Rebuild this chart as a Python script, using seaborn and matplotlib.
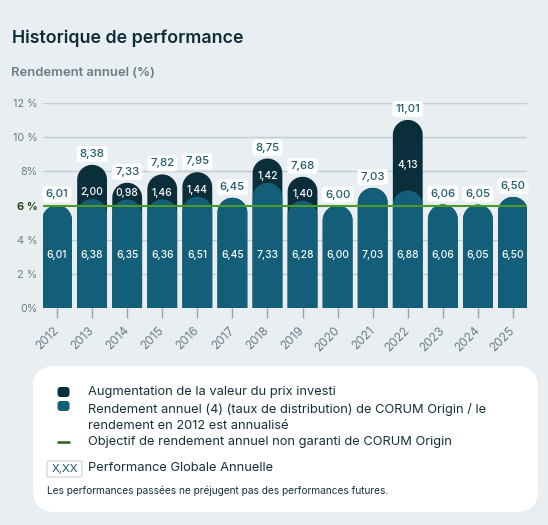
import numpy as np
import pandas as pd
import seaborn as sns
import matplotlib
matplotlib.use("Agg")
import matplotlib.pyplot as plt
from matplotlib.path import Path
from matplotlib.patches import PathPatch, FancyBboxPatch

# data
years = [str(y) for y in range(2012, 2026)]
distribution = [6.01, 6.38, 6.35, 6.36, 6.51, 6.45, 7.33, 6.28, 6.00, 7.03, 6.88, 6.06, 6.05, 6.50]
increase = [0, 2.00, 0.98, 1.46, 1.44, 0, 1.42, 1.40, 0, 0, 4.13, 0, 0, 0]
total = [6.01, 8.38, 7.33, 7.82, 7.95, 6.45, 8.75, 7.68, 6.00, 7.03, 11.01, 6.06, 6.05, 6.50]
y_ticks = [0, 2, 4, 6, 8, 10, 12]
y_tick_labels = ["0%", "2 %", "4 %", "6 %", "8%", "10 %", "12 %"]
target = 6

BG = "#e8eef1"
DARK = "#0b2e3b"
TEAL = "#135e78"
GREEN = "#4a9a2a"
GRID = "#c3ccd0"
GRAY = "#6e7d83"
LABEL = "#1d5a70"
TEXT = "#15303a"

sns.set_theme(style="white")
plt.rcParams["font.family"] = ["Inter", "DejaVu Sans"]

df = pd.DataFrame({"year": years, "distribution": distribution, "total": total})

W, H = 548, 525
fig = plt.figure(figsize=(W / 100, H / 100), dpi=100, facecolor=BG)
ax = fig.add_axes([43 / W, 1 - 308 / H, 484 / W, 205 / H])
ax.set_facecolor(BG)

sns.barplot(data=df, x="year", y="total", color=DARK, width=0.85, saturation=1, ax=ax)
sns.barplot(data=df, x="year", y="distribution", color=TEAL, width=0.85, saturation=1, ax=ax)
ax.set_xlim(-0.4, 13.4)
ax.set_ylim(0, 12)

# convert bars to rounded-top shapes
fig.canvas.draw()
p0 = ax.transData.transform((0, 0))
p1 = ax.transData.transform((1, 1))
ratio = (p1[0] - p0[0]) / (p1[1] - p0[1])
for patch in list(ax.patches):
    x0, w, h = patch.get_x(), patch.get_width(), patch.get_height()
    rx = w / 2
    ry = rx * ratio
    th = np.linspace(np.pi, 0, 40)
    xs = x0 + rx + rx * np.cos(th)
    ys = h - ry + ry * np.sin(th)
    verts = [(x0, 0), (x0, h - ry)] + list(zip(xs, ys)) + [(x0 + w, 0), (x0, 0)]
    codes = [Path.MOVETO] + [Path.LINETO] * (len(verts) - 2) + [Path.CLOSEPOLY]
    ax.add_patch(PathPatch(Path(verts, codes), facecolor=patch.get_facecolor(),
                           edgecolor="none", zorder=patch.get_zorder()))
    patch.remove()

for v in y_ticks:
    if v == target:
        continue
    ax.axhline(v, color=GRID, lw=1, zorder=0.5)
ax.axhline(target, color=GREEN, lw=1.5, zorder=1.5)

# labels
for i, (d, inc, t) in enumerate(zip(distribution, increase, total)):
    ax.text(i, 3.1, f"{d:.2f}".replace(".", ","), ha="center", va="center",
            color="white", fontsize=7.4, fontweight="medium", zorder=5)
    if inc > 0:
        ly = max(d + 0.38, (d + t) / 2 - 0.6)
        ax.text(i, ly, f"{inc:.2f}".replace(".", ","), ha="center", va="center",
                color="white", fontsize=7.4, fontweight="medium", zorder=5)
    ax.text(i, t + 0.64, f"{t:.2f}".replace(".", ","), ha="center", va="center",
            color=LABEL, fontsize=8.2, fontweight="medium", zorder=6, clip_on=False,
            bbox=dict(boxstyle="round,pad=0.26,rounding_size=0.3", fc="white", ec="none"))

ax.set_yticks(y_ticks)
ax.set_yticklabels(y_tick_labels)
for lab, v in zip(ax.get_yticklabels(), y_ticks):
    lab.set_color(GRAY)
    if v == target:
        lab.set_fontweight("bold")
        lab.set_color("#1f4a16")
ax.tick_params(axis="y", left=False, length=0, pad=4, labelsize=7.8)
ax.tick_params(axis="x", bottom=True, length=7, width=1, color="#9aa6ab", pad=8,
               labelsize=8.6, labelcolor=GRAY)
plt.setp(ax.get_xticklabels(), rotation=45, ha="right", va="center", rotation_mode="anchor")
ax.set_xlabel("")
ax.set_ylabel("")
sns.despine(ax=ax, left=True, bottom=True, top=True, right=True)

# overlay in pixel coordinates
lay = fig.add_axes([0, 0, 1, 1], zorder=-1)
lay.set_xlim(0, W)
lay.set_ylim(H, 0)
lay.axis("off")
lay.text(12, 38, "Historique de performance", fontsize=12.8, fontweight="semibold",
         color="#0f2d38", va="center", ha="left")
lay.text(11, 73, "Rendement annuel (%)", fontsize=9.4, fontweight="semibold",
         color=GRAY, va="center", ha="left")

lay.add_patch(FancyBboxPatch((33, 366), 505, 146, boxstyle="round,pad=0,rounding_size=22",
                             fc="white", ec="none"))
lay.add_patch(FancyBboxPatch((57.5, 387), 12, 10, boxstyle="round,pad=0,rounding_size=3",
                             fc=DARK, ec="none"))
lay.add_patch(FancyBboxPatch((57.5, 401), 12, 10, boxstyle="round,pad=0,rounding_size=3",
                             fc=TEAL, ec="none"))
lay.plot([58, 69], [442, 442], color="#2f5a22", lw=1.8)
lay.add_patch(FancyBboxPatch((47, 461), 35, 16, boxstyle="round,pad=0,rounding_size=2",
                             fc="white", ec="#c9d3d7", lw=0.8))
lay.text(64.5, 469, "X,XX", fontsize=8.2, color=LABEL, ha="center", va="center", zorder=5)

legend_lines = [
    (392, "Augmentation de la valeur du prix investi"),
    (409, "Rendement annuel (4) (taux de distribution) de CORUM Origin / le"),
    (426, "rendement en 2012 est annualisé"),
    (442, "Objectif de rendement annuel non garanti de CORUM Origin"),
    (468, "Performance Globale Annuelle"),
]
for y, s in legend_lines:
    lay.text(88, y, s, fontsize=9.25, color=TEXT, ha="left", va="center")
lay.text(47, 491, "Les performances passées ne préjugent pas des performances futures.",
         fontsize=7.3, color=TEXT, ha="left", va="center")

fig.savefig("out.png", dpi=100, facecolor=BG)
